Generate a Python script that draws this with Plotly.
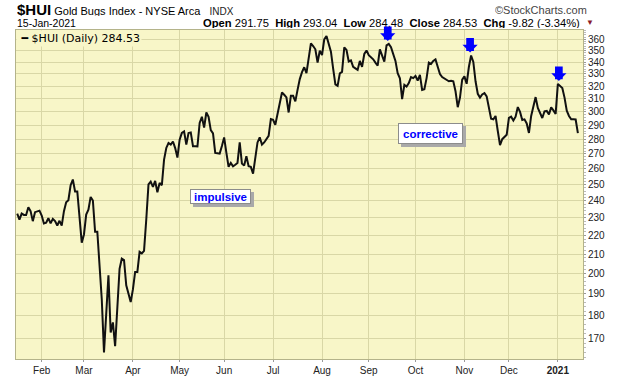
import math
import pandas as pd
import plotly.graph_objects as go

# ---------------- data ----------------
START = "2020-01-16"
END = "2021-01-15"
HOLIDAYS = ["2020-01-20", "2020-02-17", "2020-04-10", "2020-05-25", "2020-07-03",
            "2020-09-07", "2020-11-26", "2020-12-25", "2021-01-01", "2021-01-18"]

JAN20 = [232.5, 229.0, 232.5, 231.7, 231.7, 236.2, 233.9, 228.1, 233.3, 233.7, 234.2]
FEB20 = [231.3, 226.8, 227.2, 229.8, 226.8, 229.4, 228.1, 225.6, 228.3, 225.6, 233.9,
         239.2, 240.4, 249.6, 253.2, 245.7, 245.7, 230.9, 216.1]
MAR20 = [220.6, 231.9, 234.8, 242.4, 240.2, 222.1, 222.1, 205.6, 187.5, 164.1, 178.3,
         199.1, 172.5, 176.9, 166.7, 184.2, 202.4, 207.6, 206.9, 194.2, 190.5, 186.2]
APR20 = [192.2, 200.8, 200.8, 211.2, 210.4, 211.7, 229.0, 250.1, 251.9, 248.6, 252.3,
         245.3, 251.0, 249.6, 266.2, 274.1, 277.5, 276.4, 278.6, 274.0, 267.6]
MAY20 = [279.8, 284.6, 285.7, 276.4, 284.6, 285.0, 275.3, 275.3, 275.2, 291.8, 296.4,
         288.4, 299.6, 296.4, 286.6, 284.3, 270.7, 270.5, 270.2, 275.5]
JUN20 = [281.4, 270.9, 261.4, 264.0, 261.8, 262.8, 264.0, 277.9, 263.6, 262.2, 268.4,
         261.8, 261.4, 257.0, 266.2, 277.9, 281.5, 276.4, 277.9, 280.0, 282.6, 294.7]
JUL20 = [294.2, 290.5, 299.2, 306.0, 315.0, 313.2, 311.2, 299.6, 312.4, 312.4, 308.1,
         317.1, 325.8, 331.5, 335.6, 330.7, 343.3, 356.4, 354.0, 351.1, 339.6, 349.8]
AUG20 = [346.1, 360.0, 363.0, 356.5, 349.0, 334.5, 321.5, 320.3, 330.5, 331.7, 352.8,
         350.5, 340.5, 341.5, 336.0, 334.7, 333.4, 341.0, 336.0, 347.0, 350.0]
SEP20 = [346.0, 344.5, 342.4, 339.5, 337.0, 351.0, 345.5, 340.4, 354.5, 355.8, 353.0,
         346.0, 341.0, 330.6, 326.5, 309.8, 321.1, 319.8, 322.5, 327.4, 326.6]
OCT20 = [328.4, 324.6, 329.2, 317.1, 317.6, 326.6, 339.6, 338.4, 341.0, 342.3, 336.0,
         330.0, 327.4, 326.3, 325.0, 324.0, 324.5, 324.0, 316.0, 303.6, 311.0, 325.3]
NOV20 = [328.0, 322.0, 335.8, 345.7, 340.1, 324.0, 314.0, 311.0, 313.5, 314.5, 312.0,
         303.5, 295.0, 294.5, 297.0, 286.0, 276.0, 280.2, 281.7, 283.3]
DEC20 = [295.5, 296.5, 293.7, 296.5, 303.7, 300.0, 294.0, 294.5, 291.5, 284.6, 297.0,
         305.0, 311.4, 303.0, 299.5, 295.5, 300.5, 300.8, 298.2, 303.5, 301.2, 298.5]
JAN21 = [321.9, 320.0, 318.5, 311.0, 301.0, 297.0, 294.5, 294.5, 294.35, 284.53]

VALUES = (JAN20 + FEB20 + MAR20 + APR20 + MAY20 + JUN20 + JUL20 + AUG20 + SEP20
          + OCT20 + NOV20 + DEC20 + JAN21)

Y_TICKS = [170, 180, 190, 200, 210, 220, 230, 240, 250, 260, 270, 280, 290, 300,
           310, 320, 330, 340, 350, 360]
MONTH_LABELS = ["Feb", "Mar", "Apr", "May", "Jun", "Jul", "Aug", "Sep", "Oct",
                "Nov", "Dec", "<b>2021</b>"]
ARROW_DATES = ["2020-09-15", "2020-11-05", "2021-01-04"]
ARROW_XSHIFT = [-1, -1, 1]

TITLE_SYM = "$HUI"
TITLE_NAME = "Gold Bugs Index - NYSE Arca"
TITLE_EXCH = "INDX"
DATE_TXT = "15-Jan-2021"
OHLC = [("Open", "291.75"), ("High", "293.04"), ("Low", "284.48"),
        ("Close", "284.53"), ("Chg", "-9.82 (-3.34%)")]
LEGEND_TXT = "$HUI (Daily) 284.53"

# ---------------- build ----------------
# trading-day calendar (StockCharts spaces sessions evenly)
dates = pd.bdate_range(START, END, freq="C", holidays=HOLIDAYS)
n = min(len(dates), len(VALUES))
dates = dates[:n]
vals = VALUES[:n]
pos = list(range(n))                      # session index used as x position
key = [d.strftime("%Y-%m-%d") for d in dates]
pos_by_date = dict(zip(key, pos))
val_by_date = dict(zip(key, vals))

s = pd.Series(dates)
month_first = s.groupby([s.dt.year, s.dt.month]).head(1)
month_first = month_first[month_first >= pd.Timestamp("2020-02-01")]
tick_pos = [pos_by_date[d.strftime("%Y-%m-%d")] for d in month_first]

W, H = 620, 376
ML, MR, MT, MB = 16, 37, 30, 17
PW, PH = W - ML - MR, H - MT - MB


def px(x):
    return (x - ML) / PW


def py(y):
    return (H - MB - y) / PH


BG = "#f8f6c8"
GRID = "#d9d7a6"
FONT = "Liberation Sans, Arial, sans-serif"

fig = go.Figure()
fig.add_trace(go.Scatter(x=pos, y=vals, mode="lines", text=key,
                         line=dict(color="#111111", width=2), hoverinfo="text+y"))

annotations = []
# header
annotations.append(dict(
    xref="paper", yref="paper", x=px(15), y=py(9), xanchor="left", yanchor="middle",
    showarrow=False, font=dict(family=FONT, size=11, color="#000"), height=14,
    text=(f"<span style='font-size:15px'><b>{TITLE_SYM}</b></span> {TITLE_NAME}"
          f"&nbsp;&nbsp; <span style='font-size:10px;color:#222'>{TITLE_EXCH}</span>")))
annotations.append(dict(
    xref="paper", yref="paper", x=px(589), y=py(9), xanchor="right", yanchor="middle",
    showarrow=False, font=dict(family=FONT, size=11, color="#444"), height=13,
    text="©StockCharts.com"))
annotations.append(dict(
    xref="paper", yref="paper", x=px(15), y=py(22.5), xanchor="left", yanchor="middle",
    showarrow=False, font=dict(family=FONT, size=10.5, color="#000"), height=11,
    text=DATE_TXT))
ohlc_txt = "&nbsp;&nbsp;".join(f"<b>{k}</b> {v}" for k, v in OHLC)
annotations.append(dict(
    xref="paper", yref="paper", x=px(582), y=py(22.5), xanchor="right", yanchor="middle",
    showarrow=False, font=dict(family=FONT, size=11.2, color="#000"), height=11,
    text=ohlc_txt))
annotations.append(dict(
    xref="paper", yref="paper", x=px(584), y=py(22.5), xanchor="left", yanchor="middle",
    showarrow=False, font=dict(family=FONT, size=8, color="#8b1a2a"), height=11,
    text="▼"))
# legend inside plot
annotations.append(dict(
    xref="paper", yref="paper", x=0, y=1, xanchor="left", yanchor="top",
    showarrow=False, bgcolor=BG, borderpad=1,
    font=dict(family="DejaVu Sans, sans-serif", size=11, color="#000"),
    text="&nbsp;━ " + LEGEND_TXT))

# text boxes with shadows
for label, cx, cy, w, h in [("impulsive", 220, 196.5, 59, 13),
                            ("corrective", 430.5, 133.5, 63, 19)]:
    annotations.append(dict(
        xref="paper", yref="paper", x=px(cx), y=py(cy), xanchor="center", yanchor="middle",
        showarrow=False, text="", width=w, height=h, bgcolor="#a9a9a9",
        bordercolor="#a9a9a9", borderwidth=1, borderpad=0, xshift=3, yshift=-3))
    annotations.append(dict(
        xref="paper", yref="paper", x=px(cx), y=py(cy), xanchor="center", yanchor="middle",
        showarrow=False, text=f"<b>{label}</b>", width=w, height=h, bgcolor="#ffffff",
        bordercolor="#8c8c8c", borderwidth=1, borderpad=0,
        font=dict(family=FONT, size=11.5, color="#0000ff")))

# blue arrows above peaks
for d, xs in zip(ARROW_DATES, ARROW_XSHIFT):
    annotations.append(dict(
        x=pos_by_date[d], y=math.log10(val_by_date[d]), xref="x", yref="y", text="",
        showarrow=True, arrowhead=1, arrowsize=0.33, arrowwidth=7.7,
        arrowcolor="#0000ff", ax=0, ay=-19, standoff=3, xshift=xs))

minor_vals = list(range(162, 369, 2))

fig.update_layout(
    width=W, height=H,
    margin=dict(l=ML, r=MR, t=MT, b=MB, pad=0),
    paper_bgcolor="#ffffff", plot_bgcolor=BG,
    showlegend=False,
    annotations=annotations,
    xaxis=dict(
        type="linear",
        range=[-0.55, 254.3],
        tickmode="array", tickvals=tick_pos, ticktext=MONTH_LABELS,
        showgrid=True, gridcolor=GRID, gridwidth=1,
        ticks="outside", ticklen=2, tickcolor="#999",
        tickfont=dict(family=FONT, size=10, color="#222"),
        showline=True, linecolor="#b4b38a", linewidth=1, mirror=True,
        zeroline=False, fixedrange=True, automargin=False),
    yaxis=dict(
        type="log", side="right",
        range=[math.log10(161.4), math.log10(368.5)],
        tickmode="array", tickvals=Y_TICKS, ticktext=[str(v) for v in Y_TICKS],
        showgrid=True, gridcolor=GRID, gridwidth=1,
        ticks="outside", ticklen=2, tickcolor="#999",
        minor=dict(tickmode="array", tickvals=minor_vals, ticks="outside", ticklen=2,
                   tickcolor="#bbb", showgrid=False),
        tickfont=dict(family=FONT, size=10, color="#222"),
        showline=True, linecolor="#b4b38a", linewidth=1, mirror=True,
        zeroline=False, fixedrange=True, automargin=False),
)

# remove the browser's default 8px page margin so the figure sits at the window origin
fig.write_html("out.html",
               config={"displayModeBar": False, "responsive": False},
               post_script="document.body.style.margin='0px';document.body.style.overflow='hidden';")
